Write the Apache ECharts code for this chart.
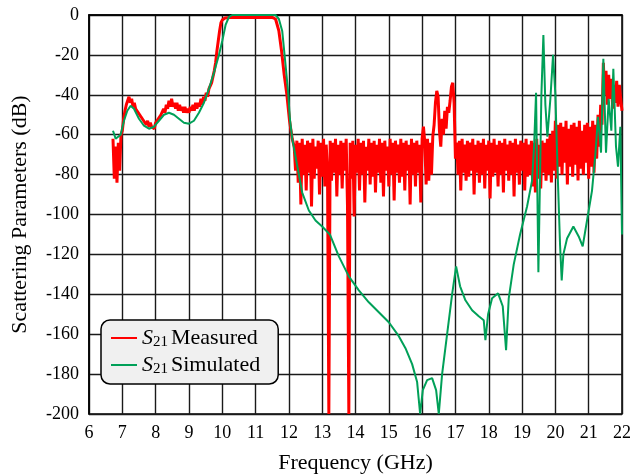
<!DOCTYPE html>
<html>
<head>
<meta charset="utf-8">
<script src="https://cdn.jsdelivr.net/npm/echarts@6/dist/echarts.min.js"></script>
<style>
  html, body { margin: 0; padding: 0; background: #fff; }
  #chart { width: 634px; height: 474px; }
</style>
</head>
<body>
<div id="chart"></div>
<script>
// 坐标轴刻度
var xTicks = [6, 7, 8, 9, 10, 11, 12, 13, 14, 15, 16, 17, 18, 19, 20, 21, 22];
var yTicks = [0, -20, -40, -60, -80, -100, -120, -140, -160, -180, -200];

// 实测 S21：低频段 6.72 GHz 起，每 0.04 GHz 一个点
var measLowStart = 6.72;
var measLowStep = 0.04;
var measLow = [
  -62, -82, -66, -84, -64, -78, -60,
  -58, -52, -48, -45, -43, -41, -44, -42, -46, -44,
  -47, -46, -49, -48, -51, -50, -53, -52, -55, -53,
  -56, -54, -56, -55, -57, -54, -55, -52, -53, -50,
  -50, -47, -49, -45, -47, -43, -46, -42, -46, -44,
  -47, -44, -48, -45, -48, -46, -49, -46, -49, -47,
  -49, -46, -48, -45, -48, -44, -47, -44, -46, -42,
  -45, -41, -43, -39, -41, -37, -38, -34, -33, -28,
  -24, -18, -13, -8, -4
];
// 实测 S21：通带及下降沿 [GHz, dB]
var measPass = [
  [10.0, -2.5], [10.08, -1.5], [10.3, -1.1], [10.6, -1.2], [10.9, -1.1],
  [11.2, -1.3], [11.5, -1.2], [11.6, -2], [11.7, -8], [11.78, -18],
  [11.86, -30], [11.94, -40], [12.02, -53], [12.1, -62]
];
// 实测 S21：阻带（噪声），12.16 GHz 起，每 0.04 GHz 一个点
var measStopStart = 12.16;
var measStopStep = 0.04;
var measStop = [
  -66, -78, -63, -84, -64, -95, -62, -80, -65, -88, -63, -79, -64, -96, -62, -82, -66, -77, -63, -90,
  -64, -81, -62, -86, -65, -78, -200, -63, -83, -64,
  -79, -62, -91, -65, -80, -63, -87, -64, -78, -62,
  -96, -200, -64, -82, -63, -101, -65, -79, -62, -88,
  -64, -80, -63, -94, -66, -78, -62, -85, -64, -81,
  -63, -89, -65, -79, -62, -84, -64, -91, -63, -78,
  -66, -86, -62, -80, -64, -93, -63, -79, -65, -84,
  -62, -81, -64, -88, -63, -78, -65, -95, -62, -80,
  -64, -86, -63, -79, -65, -94, -62, -56, -64, -85,
  -62, -83, -64, -80, -61, -55, -44, -38, -41, -58,
  -66, -52, -60, -48, -57, -46, -49, -43, -36, -34,
  -44, -72, -64, -80, -63, -88, -62, -79, -65, -83,
  -63, -81, -64, -78, -62, -90, -65, -79, -63, -84,
  -64, -80, -62, -87, -65, -78, -63, -92, -64, -81,
  -62, -79, -65, -86, -63, -80, -64, -89, -62, -78,
  -65, -83, -63, -80, -64, -91, -62, -79, -65, -85,
  -63, -78, -64, -88, -62, -81, -65, -80, -63, -86,
  -64, -89, -62, -82, -65, -87, -63, -79, -64, -83,
  -62, -80, -60, -84, -58, -78, -53, -82, -55, -76,
  -54, -80, -56, -74, -53, -85, -57, -76, -55, -81,
  -54, -75, -56, -83, -53, -77, -58, -80, -55, -74,
  -54, -82, -56, -76, -53, -79, -55, -72, -50, -66,
  -45, -55, -24, -40, -28, -45, -30, -42, -32, -47,
  -35, -44, -33, -46, -35, -42, -48
];

// 仿真 S21 [GHz, dB]
var simData = [
  [6.72, -58], [6.8, -62], [6.86, -63], [6.95, -60], [7.05, -53], [7.15, -48],
  [7.25, -45.5], [7.35, -47], [7.5, -52], [7.65, -55.5], [7.8, -57], [7.95, -56],
  [8.1, -53], [8.25, -50], [8.4, -49], [8.55, -50], [8.7, -52], [8.85, -54],
  [9.0, -54.5], [9.15, -53], [9.3, -49], [9.45, -44], [9.6, -37], [9.75, -29],
  [9.9, -20], [10.0, -13], [10.1, -5], [10.2, -1], [10.3, 0], [11.0, 0], [11.6, 0],
  [11.7, -2], [11.8, -8], [11.9, -25], [11.98, -39], [12.03, -52], [12.1, -62],
  [12.2, -71], [12.3, -80], [12.4, -89], [12.6, -98], [12.8, -103], [13.0, -106],
  [13.23, -110], [13.5, -121], [13.8, -131], [14.1, -138], [14.4, -144], [14.7, -149],
  [15.0, -154], [15.3, -161], [15.5, -167], [15.7, -175], [15.85, -184], [15.94, -200],
  [16.02, -188], [16.15, -183], [16.3, -182], [16.42, -188], [16.5, -200], [16.6, -180],
  [16.75, -160], [16.9, -140], [17.02, -126], [17.14, -136], [17.3, -143], [17.5, -148],
  [17.7, -151], [17.85, -153], [17.9, -163], [17.98, -150], [18.1, -142], [18.28, -139.5],
  [18.42, -146], [18.52, -168], [18.6, -142], [18.75, -125], [18.94, -110], [19.15, -96],
  [19.3, -83], [19.36, -66], [19.42, -39], [19.46, -90], [19.49, -129], [19.52, -100],
  [19.58, -40], [19.64, -10], [19.7, -45], [19.76, -61], [19.85, -42], [19.93, -20],
  [20.0, -40], [20.07, -80], [20.14, -115], [20.19, -133], [20.24, -120], [20.35, -112],
  [20.54, -106], [20.7, -111], [20.82, -116], [20.95, -103], [21.1, -88], [21.2, -70],
  [21.28, -51], [21.37, -69], [21.44, -22], [21.52, -69], [21.6, -42], [21.68, -58],
  [21.74, -27], [21.82, -66], [21.88, -76], [21.95, -56], [22.0, -110]
];

// 拼接实测数据
var measData = [];
for (var i = 0; i < measLow.length; i++) {
  measData.push([+(measLowStart + i * measLowStep).toFixed(2), measLow[i]]);
}
measData = measData.concat(measPass);
for (var j = 0; j < measStop.length; j++) {
  measData.push([+(measStopStart + j * measStopStep).toFixed(2), measStop[j]]);
}

var serif = 'Liberation Serif';
var chart = echarts.init(document.getElementById('chart'));

var option = {
  animation: false,
  backgroundColor: '#fff',
  grid: {
    left: 89,
    right: 12,
    top: 15,
    bottom: 60,
    outerBoundsMode: 'none',
    show: true,
    borderColor: '#000',
    borderWidth: 1.5
  },
  legend: {
    orient: 'vertical',
    left: 101,
    top: 320,
    padding: [7, 18, 7, 10],
    itemGap: 4,
    itemWidth: 26,
    itemHeight: 2,
    icon: 'rect',
    backgroundColor: '#f0f0f0',
    borderColor: '#000',
    borderWidth: 1.5,
    borderRadius: 9,
    data: ['S21 Measured', 'S21 Simulated'],
    formatter: function (name) {
      return '{s|S}{sub|21} {t|' + name.replace('S21 ', '') + '}';
    },
    textStyle: {
      fontFamily: serif,
      color: '#000',
      rich: {
        s: { fontFamily: serif, fontStyle: 'italic', fontSize: 22, lineHeight: 24 },
        sub: { fontFamily: serif, fontSize: 15, lineHeight: 14, verticalAlign: 'bottom' },
        t: { fontFamily: serif, fontSize: 22, lineHeight: 24 }
      }
    }
  },
  xAxis: {
    type: 'value',
    min: xTicks[0],
    max: xTicks[xTicks.length - 1],
    interval: 1,
    name: 'Frequency (GHz)',
    nameLocation: 'middle',
    nameGap: 38,
    nameTextStyle: { fontFamily: serif, fontSize: 22, color: '#000' },
    axisLine: { show: true, lineStyle: { color: '#000', width: 1.5 } },
    axisTick: { show: false },
    axisLabel: { fontFamily: serif, fontSize: 18, color: '#000', margin: 10 },
    splitLine: { show: true, lineStyle: { color: '#1a1a1a', width: 1.4 } }
  },
  yAxis: {
    type: 'value',
    min: yTicks[yTicks.length - 1],
    max: yTicks[0],
    interval: 20,
    name: 'Scattering Parameters (dB)',
    nameLocation: 'middle',
    nameGap: 58,
    nameTextStyle: { fontFamily: serif, fontSize: 22, color: '#000' },
    axisLine: { show: true, lineStyle: { color: '#000', width: 1.5 } },
    axisTick: { show: false },
    axisLabel: { fontFamily: serif, fontSize: 18, color: '#000', margin: 10 },
    splitLine: { show: true, lineStyle: { color: '#1a1a1a', width: 1.4 } }
  },
  series: [
    {
      name: 'S21 Measured',
      type: 'line',
      data: measData,
      symbol: 'none',
      clip: true,
      color: '#ff0000',
      lineStyle: { color: '#ff0000', width: 3 }
    },
    {
      name: 'S21 Simulated',
      type: 'line',
      data: simData,
      symbol: 'none',
      clip: true,
      color: '#00a058',
      lineStyle: { color: '#00a058', width: 2 }
    }
  ]
};
chart.setOption(option);
</script>
</body>
</html>
